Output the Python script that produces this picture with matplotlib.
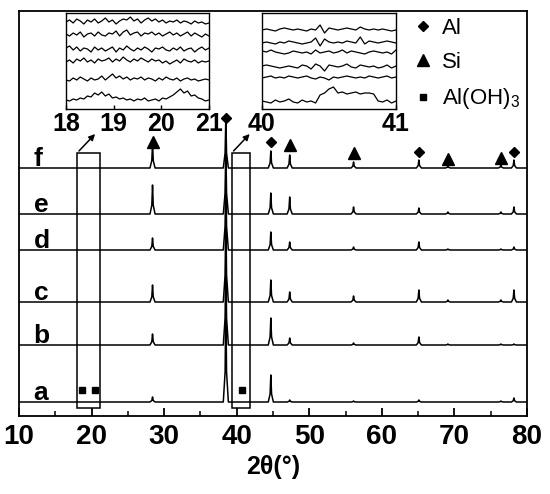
import numpy as np
import matplotlib.pyplot as plt

plt.rcParams["font.family"] = ["Liberation Sans", "DejaVu Sans"]
plt.rcParams["mathtext.default"] = "regular"

# peak positions (2theta) and heights per sample (offset units ~ px)
peak_pos = [28.4, 38.5, 44.7, 47.3, 56.1, 65.1, 69.1, 76.4, 78.2]
samples = ["a", "b", "c", "d", "e", "f"]
offsets = [14, 71, 114, 166, 202, 248]
heights = {
    "a": [5, 100, 27, 2, 1, 2, 0, 1, 4],
    "b": [11, 90, 27, 7, 2, 8, 1, 1, 1],
    "c": [17, 90, 22, 10, 6, 12, 2, 2, 12],
    "d": [12, 80, 18, 8, 3, 8, 1, 1, 3],
    "e": [29, 70, 21, 17, 7, 6, 2, 2, 7],
    "f": [25, 50, 17, 13, 6, 8, 2, 3, 8],
}

# phase markers above pattern f
al_x = [38.5, 44.7, 65.1, 78.2]
al_y = [298, 274, 264, 264]
si_x = [28.4, 47.3, 56.1, 69.1, 76.4]
si_y = [274, 271, 263, 257, 258]
aloh_x = [18.7, 20.5, 40.7]
aloh_y = [26, 26, 26]

# zoomed regions
box1 = (18.0, 21.1)
box2 = (39.3, 41.8)
box_y = (8, 263)

# inset 1: 18-21 deg, six traces (top to bottom)
in1_base = [87, 74, 59, 47, 29, 9]
in1_vals = [
    [0, 2, -1, 3, 1, -2, 2, 0, 3, -1, 1, 4, 0, 2, -2, 1, 3, 2, 5, 1, 3, -1, 2, 4, 1, 3, 0, 2, -1, 1, 0, 2, -1, 1, 0, -2, 1, -1, 0, -2, -1],
    [1, -1, 2, 0, 3, -2, 1, 2, -1, 3, 0, -1, 2, 1, 4, -1, 3, 5, 0, 2, 3, -1, 2, 1, 3, 0, 2, -1, 1, 3, 0, 2, -1, 1, 3, -1, 2, 0, -2, 1, -1],
    [2, 4, 0, 3, -1, 2, 1, -2, 3, 0, 2, -1, 1, 3, -2, 2, 0, 4, 1, -1, 2, 0, 3, 1, -2, 2, 1, 3, 0, -1, 2, 0, 3, -1, 1, 2, -2, 1, 3, 0, 2],
    [0, 2, -1, 3, 1, 4, 0, 2, -1, 3, 1, 2, 4, 0, 3, 1, 5, 2, 0, 3, 1, 4, 2, 0, 3, 1, 2, -1, 1, -2, 0, 2, -1, 3, 1, 0, 2, -1, 1, 0, 1],
    [0, -1, 2, 0, 3, 1, -1, 2, 0, 1, 4, 0, 3, 6, 2, 4, 1, 3, 0, 2, 1, 3, 0, 2, 1, -1, 2, 0, 3, 1, 0, 2, -1, 1, 2, 0, 1, -1, 0, 1, 0],
    [0, -1, 1, 0, 2, 1, 4, 3, 7, 5, 8, 4, 6, 2, 3, 1, 2, 0, 1, -1, 1, 0, 2, -1, 0, 1, -1, 2, 1, 3, 5, 8, 11, 7, 9, 4, 5, 2, 1, -1, 0],
]

# inset 2: 40-41 deg
in2_base = [79, 66, 56, 42, 31, 7]
in2_vals = [
    [0, 1, 0, -1, 1, 2, 1, 0, 1, 0, -1, 1, 0, 5, -3, 2, 1, 0, 1, 2, 1, 0, 3, 1, 0, 1, 0, 1, 0, -1, 0],
    [0, 1, 0, -1, 1, 0, 2, 1, 0, -1, 0, 1, 5, -3, 4, 1, 0, 1, 0, 2, 1, 0, 6, -1, 2, 1, 0, 1, 2, 1, 0],
    [2, 1, 3, 1, 0, -1, 0, 2, 1, 0, 1, -1, 3, 0, 1, 2, 0, 1, 3, 0, 2, 1, 0, -1, 1, 2, 1, 0, 1, -1, 3],
    [1, 2, 1, 0, -1, 0, 1, 0, -1, 2, 1, -2, 3, 1, -4, 2, 1, 0, 1, 3, 0, -1, 2, 1, 0, 1, -1, 0, 2, -1, 1],
    [0, 1, 2, 0, 1, 0, 2, 1, 0, 1, 2, 0, -1, 1, 0, -2, 1, 0, 1, 2, 1, 0, 1, 0, 2, 1, 0, 1, 2, 0, 1],
    [1, 0, -1, 2, 0, 1, 3, 0, -1, 2, 0, 1, -1, 7, 9, 13, 15, 9, 10, 8, 9, 10, 8, 9, 9, 8, 1, 0, 2, -1, 1],
]


def pattern(h):
    xs, ys = [10.0], [0.0]
    for p, v in zip(peak_pos, h):
        xs += [p - 0.35, p - 0.1, p, p + 0.1, p + 0.35]
        ys += [0, 0.3 * v, v, 0.3 * v, 0]
    xs.append(80.0)
    ys.append(0.0)
    return np.array(xs), np.array(ys)


fig = plt.figure(figsize=(5.5, 4.94), dpi=100)
ax = fig.add_axes([19 / 550, 78 / 494, 508 / 550, 405 / 494])

for s, off in zip(samples, offsets):
    xs, ys = pattern(heights[s])
    ax.plot(xs, ys + off, color="black", lw=1.1)
    ax.text(12.0, off + 2, s, fontsize=19, weight="bold", ha="left", va="baseline")

ax.plot(al_x, al_y, "D", color="black", ms=5.5, ls="none", label="Al")
ax.plot(si_x, si_y, "^", color="black", ms=8, ls="none", label="Si")
ax.plot(aloh_x, aloh_y, "s", color="black", ms=5, ls="none", label="Al(OH)$_3$")

for bx in (box1, box2):
    ax.add_patch(plt.Rectangle((bx[0], box_y[0]), bx[1] - bx[0], box_y[1] - box_y[0],
                               fill=False, lw=1.1, ec="black"))
    ax.annotate("", xy=(bx[0] + 2.75, box_y[1] + 21), xytext=(bx[0], box_y[1]),
                arrowprops=dict(arrowstyle="-|>", color="black", lw=1.1, mutation_scale=9))

ax.set_xlim(10, 80)
ax.set_ylim(0, 405)
ax.set_xticks(range(10, 81, 10))
ax.set_xticks(range(15, 80, 10), minor=True)
ax.set_yticks([])
ax.tick_params(axis="x", which="major", direction="in", length=6, width=1.3, pad=6,
               labelsize=20)
ax.tick_params(axis="x", which="minor", direction="in", length=3.5, width=1.1)
for lab in ax.get_xticklabels():
    lab.set_fontweight("bold")
for sp in ax.spines.values():
    sp.set_linewidth(1.3)
ax.set_xlabel("2θ(°)", fontsize=18, weight="bold", labelpad=3)

ax.legend(loc="upper right", bbox_to_anchor=(1.0, 1.0), frameon=False, fontsize=16,
          handlelength=0.7, handletextpad=0.5, labelspacing=0.6, borderaxespad=0.2,
          borderpad=0.1)

# insets
in1 = fig.add_axes([66 / 550, 385 / 494, 143 / 550, 96 / 494])
x1 = np.linspace(18, 21, len(in1_vals[0]))
for b, v in zip(in1_base, in1_vals):
    in1.plot(x1, b + np.array(v), color="black", lw=0.9)
in1.set_xlim(18, 21)
in1.set_ylim(0, 96)
in1.set_xticks([18, 19, 20, 21])

in2 = fig.add_axes([262 / 550, 385 / 494, 134 / 550, 96 / 494])
x2 = np.linspace(40, 41, len(in2_vals[0]))
for b, v in zip(in2_base, in2_vals):
    in2.plot(x2, b + np.array(v), color="black", lw=0.9)
in2.set_xlim(40, 41)
in2.set_ylim(0, 96)
in2.set_xticks([40, 41])

for a in (in1, in2):
    a.set_yticks([])
    a.tick_params(axis="x", direction="in", length=3, width=1, pad=2, labelsize=18)
    for lab in a.get_xticklabels():
        lab.set_fontweight("bold")
    for sp in a.spines.values():
        sp.set_linewidth(1.0)

fig.savefig("out.png", dpi=100)
